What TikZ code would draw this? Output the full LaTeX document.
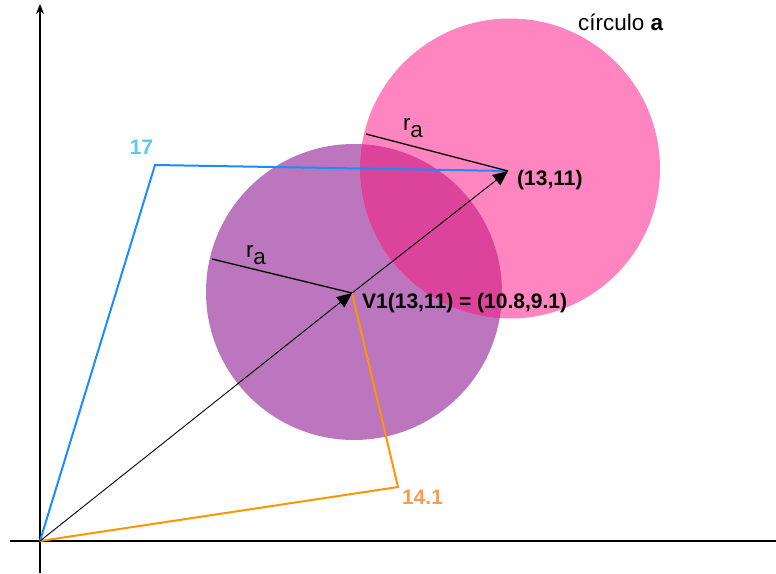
\documentclass[tikz,border=0pt]{standalone}
\usepackage{fontspec}
\setmainfont{Liberation Sans}
\usetikzlibrary{arrows.meta}
\definecolor{vcink}{HTML}{000000}
\definecolor{vcpink}{HTML}{FF85C0}
\definecolor{vcpurple}{HTML}{BB76BE}
\definecolor{vcoverlap}{HTML}{DC449B}
\definecolor{vcblue}{HTML}{1A8CFF}
\definecolor{vcbluetext}{HTML}{5AC8FA}
\definecolor{vcorange}{HTML}{FF9500}
\definecolor{vcorangetext}{HTML}{FF9A50}
\tikzset{
  vc text/.style={font=\fontsize{22.5}{26}\selectfont, text=vcink},
  vc axis/.style={draw=vcink, line width=2pt},
  vc vector/.style={draw=vcink, line width=0.9pt,
    -{Triangle[length=15pt,width=13pt]}},
  vc radius/.style={draw=vcink, line width=1.3pt},
  vc blue path/.style={draw=vcblue, line width=2pt},
  vc orange path/.style={draw=vcorange, line width=2pt},
  vc label/.style={font=\fontsize{21}{24}\selectfont\bfseries, text=vcink, inner sep=0pt}
}
\begin{document}
\begin{tikzpicture}[vc text, x=1pt, y=-1pt]
  \useasboundingbox (0,0) rectangle (776,573);
  % circles
  \fill[vcpurple] (354,292) circle (148);
  \fill[vcpink] (510,168.5) circle (150);
  \begin{scope}
    \clip (510,168.5) circle (150);
    \fill[vcoverlap] (354,292) circle (148);
  \end{scope}
  % axes
  \coordinate (origin) at (40,541);
  \coordinate (ytop) at (40,4);
  \coordinate (ybot) at (40,573);
  \coordinate (xleft) at (10,541);
  \coordinate (xright) at (776,541);
  \draw[vc axis, -{Stealth[length=10pt,width=8pt]}] (ybot) -- (ytop);
  \draw[vc axis] (xleft) -- (xright);
  % points
  \coordinate (tip) at (508,171);
  \coordinate (v1) at (352,293);
  \coordinate (bcorner) at (155,165);
  \coordinate (ocorner) at (398,487);
  \coordinate (rapink) at (366,134);
  \coordinate (rapurple) at (212,259);
  \draw[vc blue path] (origin) -- (bcorner) -- (tip);
  \draw[vc orange path] (v1) -- (ocorner) -- (origin);
  \draw[vc radius] (rapink) -- (tip);
  \draw[vc radius] (rapurple) -- (v1);
  \draw[vc vector] (origin) -- (v1);
  \draw[vc vector] (v1) -- (tip);
  % labels
  \node[vc label, text=vcbluetext] (lbl17) at (141.5,147.5) {17};
  \node[vc label, text=vcorangetext] (lbl141) at (422.5,497) {14.1};
  \node[vc label, anchor=west] (lbltip) at (517,180) {(13,11)};
  \node[vc label, anchor=west] (lblv1) at (362,303) {V1(13,11) = (10.8,9.1)};
  \node[anchor=west, inner sep=0pt] (lblcirc) at (578,22) {círculo \textbf{a}};
  \node[inner sep=0pt] (rpink) at (413,128) {r\raisebox{-7pt}{a}};
  \node[inner sep=0pt] (rpurple) at (256,255) {r\raisebox{-7pt}{a}};
\end{tikzpicture}
\end{document}
